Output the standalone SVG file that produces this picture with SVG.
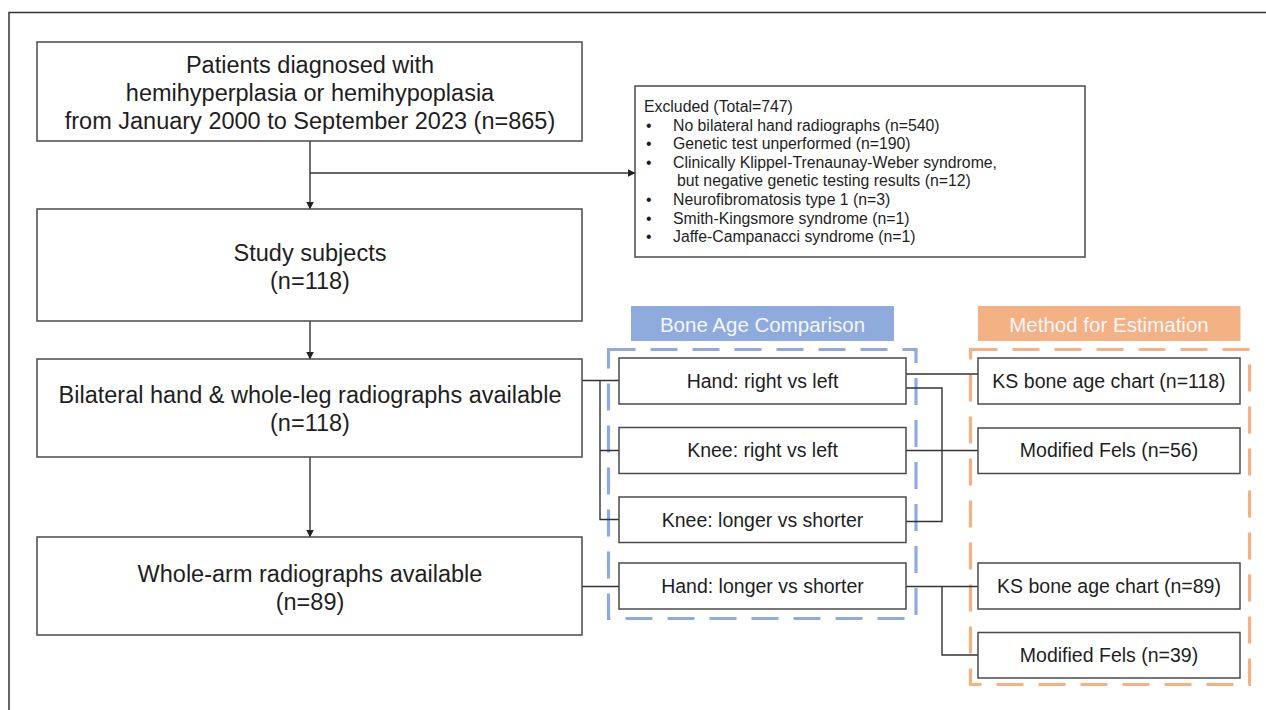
<svg xmlns="http://www.w3.org/2000/svg" width="1266" height="710" viewBox="0 0 1266 710">
<style>
  .box { fill: #ffffff; stroke: #4a4a4a; stroke-width: 1.5; }
  .t { font-family: "Liberation Sans", Arial, sans-serif; fill: #1e1e1e; }
  .main { font-size: 23.5px; text-anchor: middle; }
  .sub { font-size: 19.5px; text-anchor: middle; }
  .ex { font-size: 15.8px; }
  .lbl { font-family: "Liberation Sans", Arial, sans-serif; font-size: 20.5px; fill: #f4f6fb; text-anchor: middle; }
  .con { fill: none; stroke: #333333; stroke-width: 1.4; }
  .dashB { fill: none; stroke: #8FAADC; stroke-width: 3.2; stroke-dasharray: 27 15; }
  .dashO { fill: none; stroke: #F4B183; stroke-width: 3.2; stroke-dasharray: 27 15; }
</style>
<defs>
  <marker id="arr" markerWidth="8" markerHeight="8" refX="7.5" refY="4" orient="auto" markerUnits="userSpaceOnUse">
    <path d="M0,0 L8,4 L0,8 Z" fill="#222"/>
  </marker>
</defs>
<rect x="0" y="0" width="1266" height="710" fill="#ffffff"/>
<!-- outer frame (partially cropped) -->
<path d="M9,710 L9,12.5 L1266,12.5" fill="none" stroke="#333" stroke-width="1.5"/>

<!-- group frames -->
<g id="bone-age-comparison">
  <rect x="631" y="306" width="263" height="35" fill="#8FAADC"/>
  <text class="lbl" x="762.5" y="331.5">Bone Age Comparison</text>
  <rect class="dashB" x="608.5" y="349.5" width="307.5" height="269"/>
</g>
<g id="method-for-estimation">
  <rect x="978" y="306" width="262.5" height="35" fill="#F4B183"/>
  <text class="lbl" x="1109" y="331.5">Method for Estimation</text>
  <rect class="dashO" x="970.5" y="349.5" width="279" height="335"/>
</g>

<!-- connectors -->
<g id="connectors">
  <line class="con" x1="310" y1="141" x2="310" y2="209" marker-end="url(#arr)"/>
  <line class="con" x1="310" y1="173" x2="635" y2="173" marker-end="url(#arr)"/>
  <line class="con" x1="310" y1="321" x2="310" y2="359" marker-end="url(#arr)"/>
  <line class="con" x1="310" y1="457" x2="310" y2="537" marker-end="url(#arr)"/>
  <!-- left bracket from bilateral box -->
  <path class="con" d="M582,380.5 L619,380.5 M600,380.5 L600,519.5 L619,519.5 M600,450.5 L619,450.5"/>
  <line class="con" x1="582" y1="586.5" x2="619" y2="586.5"/>
  <!-- right connectors -->
  <line class="con" x1="906" y1="374" x2="978" y2="374"/>
  <path class="con" d="M906,388 L942,388 L942,521.5 L906,521.5"/>
  <line class="con" x1="906" y1="450.5" x2="978" y2="450.5"/>
  <path class="con" d="M906,586.5 L978,586.5 M942,586.5 L942,655 L978,655"/>
</g>

<g id="n-patients">
  <rect class="box" x="37" y="42" width="545" height="99"/>
  <text class="t main" x="310" y="73">Patients diagnosed with</text>
  <text class="t main" x="310" y="101">hemihyperplasia or hemihypoplasia</text>
  <text class="t main" x="310" y="129">from January 2000 to September 2023 (n=865)</text>
</g>

<g id="n-excluded">
  <rect class="box" x="635" y="86" width="450" height="171"/>
  <text class="t ex" x="644" y="112">Excluded (Total=747)</text>
  <g class="t ex">
    <text x="646" y="130.6">•</text><text x="673" y="130.6">No bilateral hand radiographs (n=540)</text>
    <text x="646" y="149.2">•</text><text x="673" y="149.2">Genetic test unperformed (n=190)</text>
    <text x="646" y="167.8">•</text><text x="673" y="167.8">Clinically Klippel-Trenaunay-Weber syndrome,</text>
    <text x="677" y="186.4">but negative genetic testing results (n=12)</text>
    <text x="646" y="205">•</text><text x="673" y="205">Neurofibromatosis type 1 (n=3)</text>
    <text x="646" y="223.6">•</text><text x="673" y="223.6">Smith-Kingsmore syndrome (n=1)</text>
    <text x="646" y="242.2">•</text><text x="673" y="242.2">Jaffe-Campanacci syndrome (n=1)</text>
  </g>
</g>

<g id="n-study">
  <rect class="box" x="37" y="209" width="545" height="112"/>
  <text class="t main" x="310" y="261">Study subjects</text>
  <text class="t main" x="310" y="289">(n=118)</text>
</g>

<g id="n-bilateral">
  <rect class="box" x="37" y="359" width="545" height="98"/>
  <text class="t main" x="310" y="403">Bilateral hand &amp; whole-leg radiographs available</text>
  <text class="t main" x="310" y="431">(n=118)</text>
</g>

<g id="n-wholearm">
  <rect class="box" x="37" y="537" width="545" height="98"/>
  <text class="t main" x="310" y="582">Whole-arm radiographs available</text>
  <text class="t main" x="310" y="610">(n=89)</text>
</g>

<g id="n-hand-rl">
  <rect class="box" x="619" y="358" width="287" height="46"/>
  <text class="t sub" x="762.5" y="388">Hand: right vs left</text>
</g>
<g id="n-knee-rl">
  <rect class="box" x="619" y="427.5" width="287" height="46"/>
  <text class="t sub" x="762.5" y="457">Knee: right vs left</text>
</g>
<g id="n-knee-ls">
  <rect class="box" x="619" y="497" width="287" height="45.5"/>
  <text class="t sub" x="762.5" y="526.5">Knee: longer vs shorter</text>
</g>
<g id="n-hand-ls">
  <rect class="box" x="619" y="563" width="287" height="46"/>
  <text class="t sub" x="762.5" y="593">Hand: longer vs shorter</text>
</g>

<g id="n-ks118">
  <rect class="box" x="978" y="358" width="262" height="46"/>
  <text class="t sub" x="1109" y="388">KS bone age chart (n=118)</text>
</g>
<g id="n-fels56">
  <rect class="box" x="978" y="428" width="262" height="45.5"/>
  <text class="t sub" x="1109" y="457">Modified Fels (n=56)</text>
</g>
<g id="n-ks89">
  <rect class="box" x="978" y="563" width="262" height="46"/>
  <text class="t sub" x="1109" y="593">KS bone age chart (n=89)</text>
</g>
<g id="n-fels39">
  <rect class="box" x="978" y="632.5" width="262" height="45.5"/>
  <text class="t sub" x="1109" y="662">Modified Fels (n=39)</text>
</g>
</svg>
